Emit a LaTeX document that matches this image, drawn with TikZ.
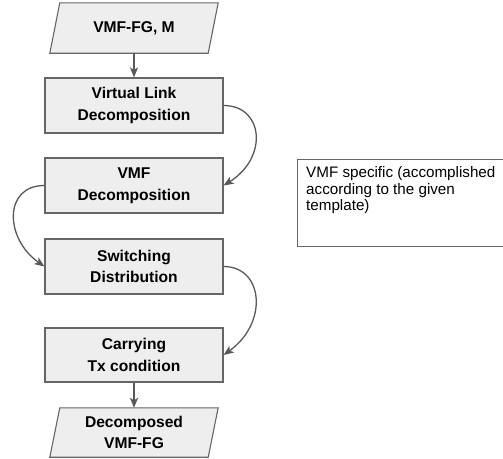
\documentclass[tikz,border=0pt]{standalone}
\usepackage{fontspec}
\setmainfont{Liberation Sans}
\usetikzlibrary{arrows.meta}

\definecolor{boxfill}{HTML}{EEEEEE}
\definecolor{boxline}{HTML}{666666}
\definecolor{flowline}{HTML}{595959}

\tikzset{
  stepbox/.style={draw=boxline, line width=1.1pt, fill=boxfill,
    minimum width=178pt, minimum height=55pt, inner sep=0pt,
    align=center, font=\fontsize{15.6}{21.5}\selectfont\bfseries},
  iobox/.style={minimum width=168pt, minimum height=50pt, inner sep=0pt,
    align=center, font=\fontsize{15.6}{21.5}\selectfont\bfseries},
  iofill/.style={draw=boxline, line width=1.1pt, fill=boxfill},
  noteframe/.style={draw=boxline, line width=1.1pt, fill=white,
    minimum width=209pt, minimum height=87pt, inner sep=0pt},
  notetext/.style={inner sep=0pt, align=left,
    font=\fontsize{15.2}{16.8}\selectfont},
  flow/.style={draw=flowline, line width=1.3pt,
    -{Stealth[length=10pt, width=8pt, inset=2.5pt]}},
}

\begin{document}
\begin{tikzpicture}[x=1pt, y=-1pt]
  \useasboundingbox (0,0) rectangle (503,458);

  % input parallelogram
  \node[iobox] (in) at (134,28) {VMF-FG, M};
  \path[iofill] ([xshift=10pt]in.north west) -- (in.north east)
    -- ([xshift=-10pt]in.south east) -- (in.south west) -- cycle;
  \node[iobox] at (in) {VMF-FG, M};

  % processing steps
  \node[stepbox] (vl)  at (134,105.5) {Virtual Link\\Decomposition};
  \node[stepbox] (vmf) at (134,185.5) {VMF\\Decomposition};
  \node[stepbox] (sw)  at (134,266.5) {Switching\\Distribution};
  \node[stepbox, minimum height=54pt] (tx) at (134,355) {Carrying\\Tx condition};

  % output parallelogram
  \node[iobox, minimum height=49pt] (out) at (134,432.5) {Decomposed\\VMF-FG};
  \path[iofill] ([xshift=10pt]out.north west) -- (out.north east)
    -- ([xshift=-10pt]out.south east) -- (out.south west) -- cycle;
  \node[iobox, minimum height=49pt] at (out) {Decomposed\\VMF-FG};

  % side note: frame runs past the right margin, text sits at the top
  \node[noteframe, anchor=north west] (note) at (297,159) {};
  \node[notetext, anchor=north west] (notetxt) at ([xshift=9pt, yshift=-7pt]note.north west)
    {VMF specific (accomplished\\according to the given\\template)};

  % connectors
  \draw[flow] (in.south) -- (vl.north);
  \draw[flow] (vl.east) .. controls +(40,0) and +(45,-28) .. (vmf.east);
  \draw[flow] (vmf.west) .. controls +(-41,0) and +(-40,-28) .. (sw.west);
  \draw[flow] (sw.east) .. controls +(40,0) and +(45,-32) .. (tx.east);
  \draw[flow] (tx.south) -- (out.north);
\end{tikzpicture}
\end{document}
